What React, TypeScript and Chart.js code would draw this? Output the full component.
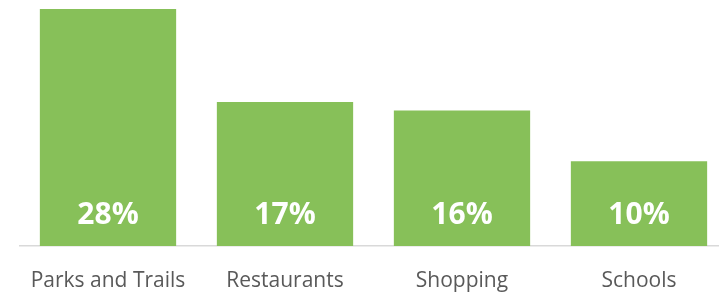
import React, { useEffect, useRef } from "react";
import { Chart, registerables } from "chart.js";

Chart.register(...registerables);

const categories = ["Parks and Trails", "Restaurants", "Shopping", "Schools"];
const values = [28, 17, 16, 10];
const valueLabels = ["28%", "17%", "16%", "10%"];

const BAR_COLOR = "rgb(135,192,89)";
const TEXT_COLOR = "#595959";
const FONT = "'Open Sans', 'Noto Sans', sans-serif";

const insideLabels = {
  id: "insideLabels",
  afterDatasetsDraw(chart: any) {
    const ctx = chart.ctx;
    const meta = chart.getDatasetMeta(0);
    ctx.save();
    ctx.fillStyle = "#ffffff";
    ctx.font = `bold 30px ${FONT}`;
    ctx.textAlign = "center";
    ctx.textBaseline = "alphabetic";
    meta.data.forEach((bar: any, i: number) => {
      ctx.fillText(valueLabels[i], bar.x, bar.base - 22);
    });
    ctx.restore();
  },
};

export default function App() {
  const ref = useRef<HTMLCanvasElement>(null);
  useEffect(() => {
    if (!ref.current) return;
    const chart = new Chart(ref.current, {
      type: "bar",
      data: {
        labels: categories,
        datasets: [
          {
            data: values,
            backgroundColor: BAR_COLOR,
            categoryPercentage: 1,
            barPercentage: 0.77,
          },
        ],
      },
      options: {
        responsive: false,
        animation: false,
        layout: { padding: { left: 19.5, right: 12.5, top: 9, bottom: 0 } },
        plugins: { legend: { display: false }, tooltip: { enabled: false } },
        scales: {
          y: { display: false, min: 0, max: 28 },
          x: {
            grid: { display: false },
            border: { display: true, color: "#d9d9d9", width: 1.5 },
            ticks: {
              color: TEXT_COLOR,
              font: { family: FONT, size: 21 },
              padding: 14,
              maxRotation: 0,
            },
            afterFit(scale: any) {
              scale.height = 48;
            },
          },
        },
      },
      plugins: [insideLabels],
    });
    return () => chart.destroy();
  }, []);
  return (
    <div style={{ position: "fixed", left: 0, top: 0, width: 719, height: 294, overflow: "hidden", background: "#fff" }}>
      <canvas ref={ref} width={740} height={294} style={{ display: "block" }} />
    </div>
  );
}
